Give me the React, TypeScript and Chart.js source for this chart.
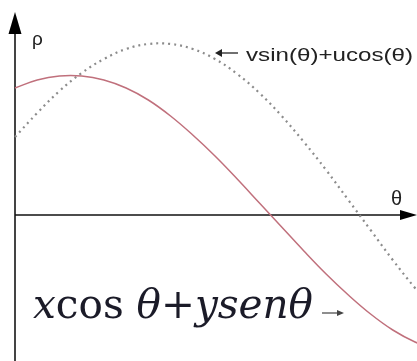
import React, { useEffect, useRef } from "react";
import { Chart, registerables } from "chart.js";

Chart.register(...registerables);

// Angle samples (degrees) and the two sinusoids ρ(θ)
const THETA = [0, 10, 20, 30, 40, 50, 60, 70, 80, 90, 100, 110, 120, 130, 140, 150, 160, 170, 180, 190];
const RHO_XY = [1.27, 1.35, 1.39, 1.39, 1.35, 1.27, 1.15, 0.99, 0.8, 0.59, 0.36, 0.12, -0.12, -0.36, -0.59, -0.8, -0.99, -1.15, -1.27, -1.35];
const RHO_UV = [0.78, 1.02, 1.24, 1.42, 1.56, 1.66, 1.71, 1.71, 1.66, 1.56, 1.41, 1.22, 0.99, 0.73, 0.45, 0.15, -0.15, -0.45, -0.73, -0.99];

const LABEL_UV = "vsin(θ)+ucos(θ)";
const AXIS_Y_LABEL = "ρ";
const AXIS_X_LABEL = "θ";
const FORMULA_PARTS: { t: string; it: boolean }[] = [
  { t: "x", it: true },
  { t: "cos", it: false },
  { t: " ", it: false },
  { t: "θ", it: true },
  { t: "+", it: false },
  { t: "ysenθ", it: true },
];

const W = 417;
const H = 361;

const axesPlugin = {
  id: "houghAxes",
  beforeDatasetsDraw(chart: any) {
    const { ctx, scales } = chart;
    const x0 = scales.x.getPixelForValue(0);
    const y0 = scales.y.getPixelForValue(0);
    ctx.save();
    // vertical axis with arrow
    ctx.strokeStyle = "#444";
    ctx.lineWidth = 2;
    ctx.beginPath();
    ctx.moveTo(x0, H);
    ctx.lineTo(x0, 30);
    ctx.stroke();
    ctx.fillStyle = "#000";
    ctx.beginPath();
    ctx.moveTo(x0, 12);
    ctx.lineTo(x0 - 6.5, 34);
    ctx.lineTo(x0 + 6.5, 34);
    ctx.closePath();
    ctx.fill();
    // horizontal axis with arrow
    ctx.strokeStyle = "#111";
    ctx.lineWidth = 1.5;
    ctx.beginPath();
    ctx.moveTo(x0, y0);
    ctx.lineTo(W - 14, y0);
    ctx.stroke();
    ctx.beginPath();
    ctx.moveTo(W, y0);
    ctx.lineTo(W - 17, y0 - 5);
    ctx.lineTo(W - 17, y0 + 5);
    ctx.closePath();
    ctx.fill();
    ctx.restore();
  },
  afterDraw(chart: any) {
    const { ctx, scales } = chart;
    const x0 = scales.x.getPixelForValue(0);
    const y0 = scales.y.getPixelForValue(0);
    ctx.save();
    ctx.textBaseline = "alphabetic";
    ctx.textAlign = "left";
    ctx.fillStyle = "#222";

    // axis names
    ctx.font = "19px 'Liberation Sans', Arial, sans-serif";
    ctx.fillText(AXIS_Y_LABEL, x0 + 17, 45);
    ctx.font = "20px 'Liberation Sans', Arial, sans-serif";
    ctx.fillText(AXIS_X_LABEL, 391, y0 - 10);

    // label for the dotted curve, arrow pointing at it
    ctx.strokeStyle = "#222";
    ctx.lineWidth = 1.3;
    ctx.beginPath();
    ctx.moveTo(238, 53);
    ctx.lineTo(217, 53);
    ctx.stroke();
    ctx.beginPath();
    ctx.moveTo(215, 53);
    ctx.lineTo(222, 49);
    ctx.lineTo(222, 57);
    ctx.closePath();
    ctx.fill();
    ctx.font = "19px 'Liberation Sans', Arial, sans-serif";
    const lw = ctx.measureText(LABEL_UV).width;
    ctx.save();
    ctx.translate(246, 61);
    ctx.scale(167 / lw, 1);
    ctx.fillText(LABEL_UV, 0, 0);
    ctx.restore();

    // large formula for the solid curve
    const size = 41;
    const fontOf = (it: boolean) =>
      `${it ? "italic " : ""}${size}px 'DejaVu Serif', 'Liberation Serif', serif`;
    let total = 0;
    for (const p of FORMULA_PARTS) {
      ctx.font = fontOf(p.it);
      total += ctx.measureText(p.t).width;
    }
    const sx = 280 / total;
    ctx.save();
    ctx.translate(33, 318);
    ctx.scale(sx, 1);
    ctx.fillStyle = "#1b1b28";
    let cx = 0;
    for (const p of FORMULA_PARTS) {
      ctx.font = fontOf(p.it);
      ctx.fillText(p.t, cx, 0);
      cx += ctx.measureText(p.t).width;
    }
    ctx.restore();
    // small arrow after the formula
    ctx.strokeStyle = "#444";
    ctx.fillStyle = "#444";
    ctx.lineWidth = 1.2;
    ctx.beginPath();
    ctx.moveTo(322, 313);
    ctx.lineTo(339, 313);
    ctx.stroke();
    ctx.beginPath();
    ctx.moveTo(344, 313);
    ctx.lineTo(337, 310);
    ctx.lineTo(337, 316);
    ctx.closePath();
    ctx.fill();
    ctx.restore();
  },
};

export default function App() {
  const ref = useRef<HTMLCanvasElement | null>(null);

  useEffect(() => {
    if (!ref.current) return;
    const chart = new Chart(ref.current, {
      type: "line",
      data: {
        datasets: [
          {
            label: "xcosθ+ysenθ",
            data: THETA.map((t, i) => ({ x: t, y: RHO_XY[i] })),
            borderColor: "#c0707c",
            borderWidth: 1.5,
            pointRadius: 0,
            tension: 0.4,
            fill: false,
          },
          {
            label: LABEL_UV,
            data: THETA.map((t, i) => ({ x: t, y: RHO_UV[i] })),
            borderColor: "#8c8c8c",
            borderWidth: 2.2,
            borderDash: [2, 4],
            pointRadius: 0,
            tension: 0.4,
            fill: false,
          },
        ],
      },
      options: {
        responsive: false,
        animation: false,
        devicePixelRatio: 1,
        layout: { padding: 0 },
        plugins: { legend: { display: false }, tooltip: { enabled: false } },
        scales: {
          x: { type: "linear", min: -6.75, max: 180.9, display: false },
          y: { type: "linear", min: -1.46, max: 2.15, display: false },
        },
      },
      plugins: [axesPlugin],
    });
    return () => chart.destroy();
  }, []);

  return (
    <div style={{ position: "fixed", left: 0, top: 0, width: W, height: H, background: "#fff" }}>
      <canvas ref={ref} width={W} height={H} style={{ display: "block" }} />
    </div>
  );
}
